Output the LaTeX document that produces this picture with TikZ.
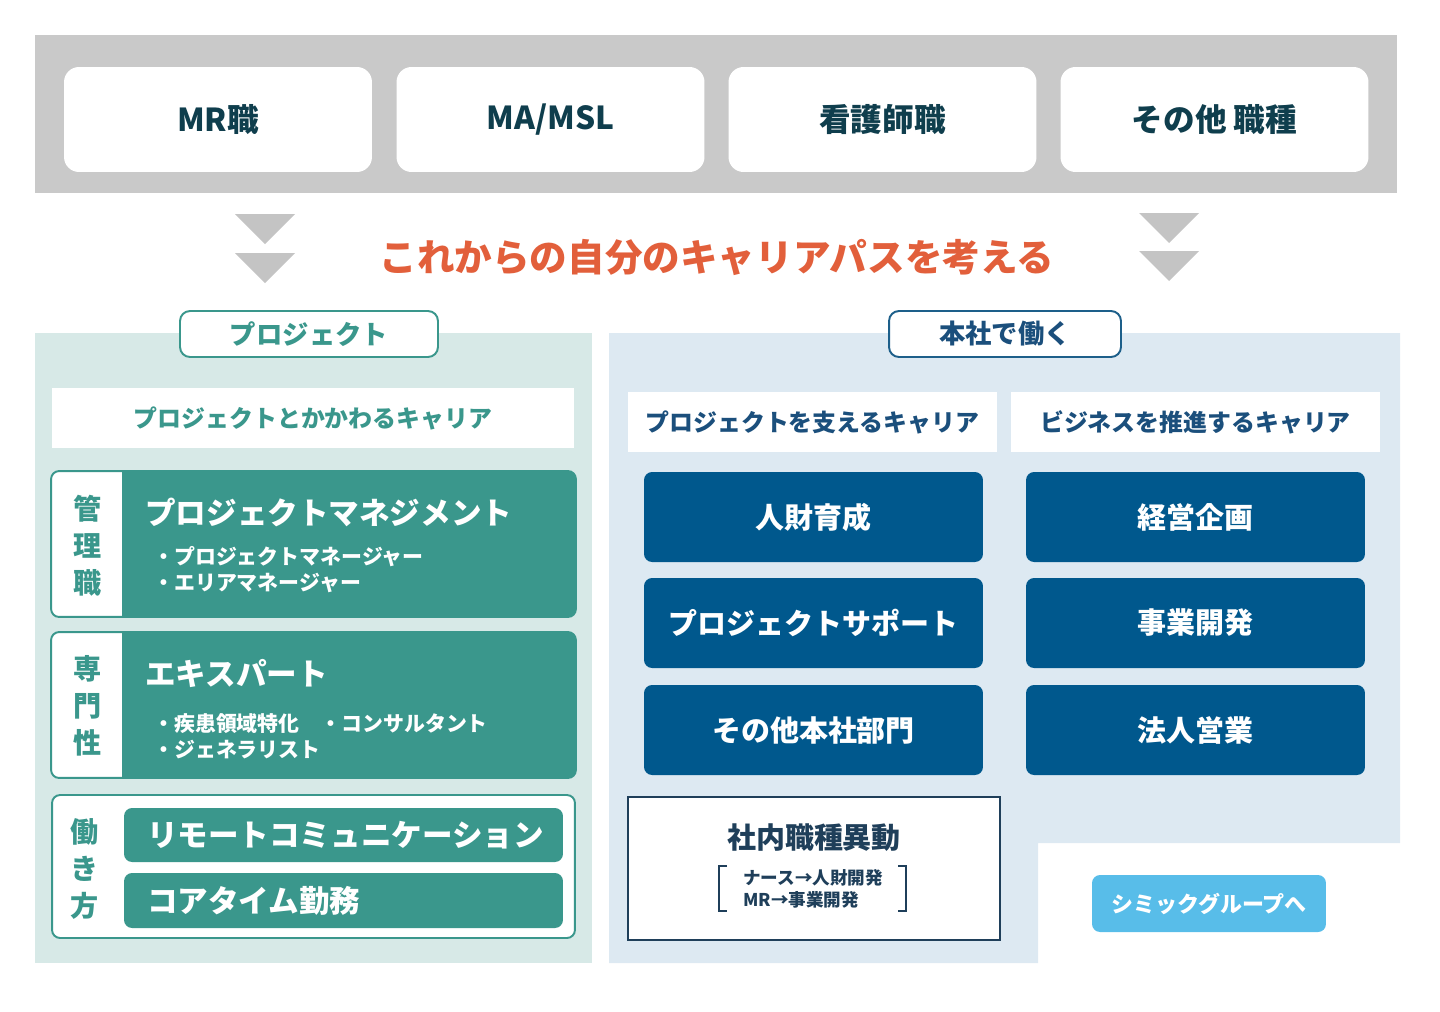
\documentclass[tikz,border=0pt]{standalone}
\usepackage{fontspec}
\setmainfont{Noto Sans CJK JP}
\usepackage{xcolor}
\usetikzlibrary{positioning}

\definecolor{bandgray}{HTML}{C9C9C9}
\definecolor{chevgray}{HTML}{C4C4C4}
\definecolor{inkteal}{HTML}{0F3E4D}
\definecolor{careerorange}{HTML}{E25F3B}
\definecolor{leftbg}{HTML}{D7E9E7}
\definecolor{projteal}{HTML}{3A978C}
\definecolor{rightbg}{HTML}{DDE9F2}
\definecolor{hqnavy}{HTML}{00588D}
\definecolor{hqline}{HTML}{1D5F8A}
\definecolor{hqtext}{HTML}{1B4F7C}
\definecolor{transink}{HTML}{1F3F5A}
\definecolor{cmicblue}{HTML}{58BDE9}

\begin{document}
\begin{tikzpicture}[
    x=0.02cm, y=-0.02cm,
    jobbox/.style={fill=white, rounded corners=0.3cm, minimum width=6.16cm, minimum height=2.1cm, text=inkteal, font=\bfseries\fontsize{18pt}{22pt}\selectfont},
    tag/.style={fill=white, rounded corners=0.2cm, line width=1.1pt, minimum height=0.92cm, font=\bfseries\fontsize{15pt}{18pt}\selectfont},
    head/.style={fill=white, minimum height=1.2cm, font=\bfseries\fontsize{13.6pt}{16pt}\selectfont},
    tealbox/.style={fill=projteal, draw=projteal, line width=1.1pt, rounded corners=0.16cm, minimum width=10.46cm, minimum height=2.88cm},
    vlabel/.style={text=projteal, align=center, inner sep=0pt, font=\bfseries\fontsize{16pt}{21pt}\selectfont},
    ptitle/.style={anchor=west, inner sep=0pt, text=white, font=\bfseries\fontsize{17.4pt}{20pt}\selectfont},
    bullets/.style={anchor=west, inner sep=0pt, align=left, text=white, font=\bfseries\fontsize{11.9pt}{14.8pt}\selectfont},
    workbox/.style={fill=projteal, rounded corners=0.16cm, minimum width=8.78cm},
    navybox/.style={fill=hqnavy, rounded corners=0.16cm, minimum width=6.78cm, minimum height=1.8cm, text=white, font=\bfseries\fontsize{16.5pt}{20pt}\selectfont}
]
\useasboundingbox (0,0) rectangle (1440,1011);

% Top band: current job categories
\fill[bandgray] (35,35) rectangle (1397,193);
\node[jobbox] (mr) at (218,119.5) {MR職};
\node[jobbox] (mamsl) at (550.5,119.5) {MA/MSL};
\node[jobbox] (nurse) at (882.5,119.5) {看護師職};
\node[jobbox] (other) at (1214.5,119.5) {その他 職種};

% double chevrons
\foreach \cx/\cy in {265/214, 265/253, 1169/213, 1169/251}
  \fill[chevgray] (\cx-30,\cy) -- (\cx+30,\cy) -- (\cx,\cy+30) -- cycle;

\node[text=careerorange, font=\bfseries\fontsize{21.4pt}{24pt}\selectfont] (think) at (717,257) {これからの自分のキャリアパスを考える};

% Left panel: project
\fill[leftbg] (35,333) rectangle (592,963);
\node[tag, draw=projteal, text=projteal, minimum width=5.16cm] (proj) at (309,334) {プロジェクト};
\node[head, text=projteal, minimum width=10.44cm] (projhead) at (313,418) {プロジェクトとかかわるキャリア};

% management
\node[tealbox] (mgmt) at (313.5,544) {};
\begin{scope}
  \clip[rounded corners=0.16cm] (mgmt.north west) rectangle (mgmt.south east);
  \fill[white] (mgmt.north west) rectangle (122,616);
\end{scope}
\draw[projteal, line width=1.1pt, rounded corners=0.16cm] (mgmt.north west) rectangle (mgmt.south east);
\node[vlabel] (mgmtlab) at (88,546) {管\\理\\職};
\node[ptitle] (pm) at (145,512) {プロジェクトマネジメント};
\node[bullets] (pmlist) at (153,570) {・プロジェクトマネージャー\\・エリアマネージャー};

% expertise
\node[tealbox] (expert) at (313.5,705) {};
\begin{scope}
  \clip[rounded corners=0.16cm] (expert.north west) rectangle (expert.south east);
  \fill[white] (expert.north west) rectangle (122,777);
\end{scope}
\draw[projteal, line width=1.1pt, rounded corners=0.16cm] (expert.north west) rectangle (expert.south east);
\node[vlabel] (expertlab) at (88,706) {専\\門\\性};
\node[ptitle] (ex) at (145,673) {エキスパート};
\node[bullets] (exlist) at (153,736) {・疾患領域特化　・コンサルタント\\・ジェネラリスト};

% way of working
\node[draw=projteal, fill=white, line width=1.1pt, rounded corners=0.16cm, minimum width=10.46cm, minimum height=2.86cm] (work) at (313.5,866.5) {};
\node[vlabel] (worklab) at (85,869) {働\\き\\方};
\node[workbox, minimum height=1.08cm] (remote) at (343.5,835) {};
\node[ptitle, right=0.46cm of remote.west] (remotetext) {リモートコミュニケーション};
\node[workbox, minimum height=1.1cm] (core) at (343.5,900.5) {};
\node[ptitle, right=0.46cm of core.west] (coretext) {コアタイム勤務};

% Right panel: head office
\fill[rightbg] (609,333) -- (1400,333) -- (1400,843) -- (1038,843) -- (1038,963) -- (609,963) -- cycle;
\node[tag, draw=hqline, text=hqtext, minimum width=4.64cm] (hq) at (1005,334) {本社で働く};
\node[head, text=hqtext, minimum width=7.38cm] (supporthead) at (812.5,422) {プロジェクトを支えるキャリア};
\node[head, text=hqtext, minimum width=7.38cm] (bizhead) at (1195.5,422) {ビジネスを推進するキャリア};

\node[navybox] (hr) at (813.5,517) {人財育成};
\node[navybox] (psupport) at (813.5,623) {プロジェクトサポート};
\node[navybox] (otherdept) at (813.5,730) {その他本社部門};
\node[navybox] (mgmtplan) at (1195.5,517) {経営企画};
\node[navybox] (bizdev) at (1195.5,623) {事業開発};
\node[navybox] (corpsales) at (1195.5,730) {法人営業};

% internal transfer
\node[draw=transink, fill=white, line width=1.1pt, minimum width=7.44cm, minimum height=2.86cm] (transfer) at (814,868.5) {};
\node[text=transink, font=\bfseries\fontsize{16.5pt}{20pt}\selectfont] (transtitle) at (814,838) {社内職種異動};
\node[anchor=west, inner sep=0pt, align=left, text=transink, font=\bfseries\fontsize{10pt}{12.5pt}\selectfont] (transnote) at (743,889) {ナース→人財開発\\MR→事業開発};
\draw[transink, line width=0.9pt] (727,866) -- (719,866) -- (719,911) -- (727,911);
\draw[transink, line width=0.9pt] (898,866) -- (906,866) -- (906,911) -- (898,911);

\node[fill=cmicblue, rounded corners=0.16cm, minimum width=4.68cm, minimum height=1.14cm, text=white, font=\bfseries\fontsize{12.5pt}{15pt}\selectfont] (cmic) at (1209,903.5) {シミックグループへ};

\end{tikzpicture}
\end{document}
